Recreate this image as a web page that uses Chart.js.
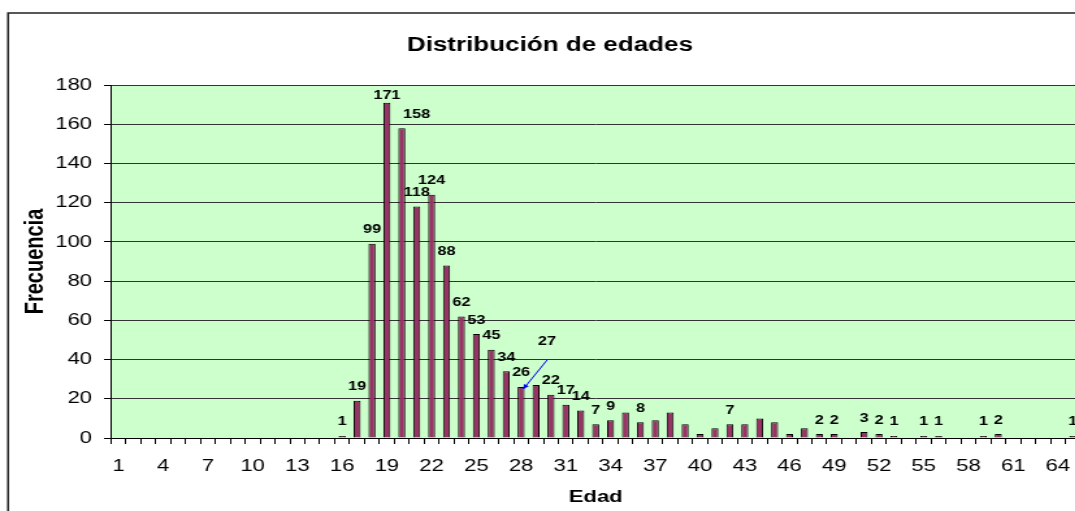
<!DOCTYPE html>
<html lang="es">
<head>
    <meta charset="UTF-8">
    <title>Distribución de edades</title>
    <script src="https://cdn.jsdelivr.net/npm/chart.js"></script>
    <style>
        html, body { margin: 0; padding: 0; background: #fff; overflow: hidden; width: 1075px; height: 511px; }
        .wrap { width: 846px; height: 511px; transform: scale(1.3, 1); transform-origin: 0 0; }
    </style>
</head>
<body>
    <div class="wrap">
        <canvas id="chartEdades" width="846" height="511"></canvas>
    </div>

    <script>
        // Edad (categorías)
        const edades = [1, 2, 3, 4, 5, 6, 7, 8, 9, 10, 11, 12, 13, 14, 15, 16, 17, 18, 19, 20,
            21, 22, 23, 24, 25, 26, 27, 28, 29, 30, 31, 32, 33, 34, 35, 36, 37, 38, 39, 40,
            41, 42, 43, 44, 45, 46, 47, 48, 49, 50, 51, 52, 53, 54, 55, 56, 57, 58, 59, 60,
            61, 62, 63, 64, 65];

        // Frecuencia por edad
        const frecuencia = [0, 0, 0, 0, 0, 0, 0, 0, 0, 0, 0, 0, 0, 0, 0, 1, 19, 99, 171, 158,
            118, 124, 88, 62, 53, 45, 34, 26, 27, 22, 17, 14, 7, 9, 13, 8, 9, 13, 7, 2,
            5, 7, 7, 10, 8, 2, 5, 2, 2, 0, 3, 2, 1, 0, 1, 1, 0, 0, 1, 2,
            0, 0, 0, 0, 1];

        // Edades cuya barra lleva rótulo de valor
        const edadesRotuladas = [16, 17, 18, 19, 20, 21, 22, 23, 24, 25, 26, 27, 28, 29, 30, 31, 32, 33, 34,
            36, 42, 48, 49, 51, 52, 53, 55, 56, 59, 60, 65];

        const yTicks = [0, 20, 40, 60, 80, 100, 120, 140, 160, 180];

        Chart.defaults.font.family = "'Liberation Sans', Arial, sans-serif";
        Chart.defaults.color = "#000";

        const fondo = {
            id: "fondo",
            beforeDraw(chart) {
                const { ctx, chartArea: a } = chart;
                ctx.save();
                ctx.fillStyle = "#CCFFCC";
                ctx.fillRect(a.left, a.top, a.right - a.left, a.bottom - a.top);
                ctx.strokeStyle = "#000";
                ctx.lineWidth = 1;
                ctx.beginPath();
                ctx.moveTo(a.left, a.top + 0.5);
                ctx.lineTo(a.right, a.top + 0.5);
                ctx.stroke();
                // marco exterior
                ctx.strokeStyle = "#222";
                ctx.lineWidth = 1.5;
                ctx.strokeRect(6.2, 13, 2000, 2000);
                ctx.restore();
            }
        };

        const rotulos = {
            id: "rotulos",
            afterDatasetsDraw(chart) {
                const { ctx } = chart;
                const meta = chart.getDatasetMeta(0);
                const xs = chart.scales.x;
                const catW = xs.getPixelForValue(1) - xs.getPixelForValue(0);
                ctx.save();
                ctx.font = "bold 12.5px 'Liberation Sans', Arial, sans-serif";
                ctx.fillStyle = "#000";
                ctx.textAlign = "center";
                ctx.textBaseline = "middle";
                edadesRotuladas.forEach(edad => {
                    const i = edades.indexOf(edad);
                    const el = meta.data[i];
                    let dx = 0, dy = 14;
                    if (edad === 19) dy = 7;
                    if (edad === 20) dx = catW;
                    if (edad === 29) { dx = 8.5; dy = 44; }
                    ctx.fillText(String(frecuencia[i]), el.x + dx, el.y - dy);
                });

                // flecha azul del rótulo 27
                const b29 = meta.data[edades.indexOf(29)];
                const b28 = meta.data[edades.indexOf(28)];
                const x0 = b29.x + 8.5, y0 = b29.y - 25;
                const x1 = b28.x + 1.7, y1 = b28.y + 2;
                ctx.strokeStyle = "#0000FF";
                ctx.fillStyle = "#0000FF";
                ctx.lineWidth = 1;
                ctx.beginPath();
                ctx.moveTo(x0, y0);
                ctx.lineTo(x1, y1);
                ctx.stroke();
                const ang = Math.atan2(y1 - y0, x1 - x0);
                ctx.beginPath();
                ctx.moveTo(x1, y1);
                ctx.lineTo(x1 - 5 * Math.cos(ang - 0.45), y1 - 5 * Math.sin(ang - 0.45));
                ctx.lineTo(x1 - 5 * Math.cos(ang + 0.45), y1 - 5 * Math.sin(ang + 0.45));
                ctx.closePath();
                ctx.fill();
                ctx.restore();
            }
        };

        new Chart(document.getElementById("chartEdades"), {
            type: "bar",
            data: {
                labels: edades,
                datasets: [{
                    label: "Frecuencia",
                    data: frecuencia,
                    backgroundColor: "#993366",
                    borderColor: "#000",
                    borderWidth: 1,
                    borderSkipped: "bottom",
                    categoryPercentage: 1,
                    barPercentage: 0.47
                }]
            },
            options: {
                responsive: false,
                animation: false,
                layout: { padding: { left: 15, top: 0, right: 15, bottom: 0 } },
                plugins: {
                    legend: { display: false },
                    tooltip: { enabled: false },
                    title: {
                        display: true,
                        text: "Distribución de edades",
                        color: "#000",
                        font: { size: 20, weight: "bold" },
                        padding: { top: 33, bottom: 28 }
                    }
                },
                scales: {
                    x: {
                        afterFit: s => { s.height = 73; },
                        grid: { drawOnChartArea: false, drawTicks: true, tickLength: 6, color: "#000", offset: true },
                        border: { color: "#000", width: 1 },
                        ticks: {
                            autoSkip: false,
                            maxRotation: 0,
                            padding: 11.8,
                            font: { size: 17 },
                            callback: (v, i) => (i % 3 === 0 ? String(edades[i]) : "")
                        },
                        title: {
                            display: true,
                            text: "Edad",
                            font: { size: 17, weight: "bold" },
                            padding: { top: 0, bottom: 3.8 }
                        }
                    },
                    y: {
                        min: 0,
                        max: 180,
                        afterFit: s => { s.width = 70.4; },
                        afterBuildTicks: s => { s.ticks = yTicks.map(v => ({ value: v })); },
                        grid: { color: "#333", tickColor: "#000", tickLength: 5.4 },
                        border: { color: "#000", width: 1 },
                        ticks: { padding: 9.2, font: { size: 17 } },
                        title: {
                            display: true,
                            text: "Frecuencia",
                            font: { size: 20, weight: "bold" },
                            padding: { top: 0.6, bottom: 0 }
                        }
                    }
                }
            },
            plugins: [fondo, rotulos]
        });
    </script>
</body>
</html>
